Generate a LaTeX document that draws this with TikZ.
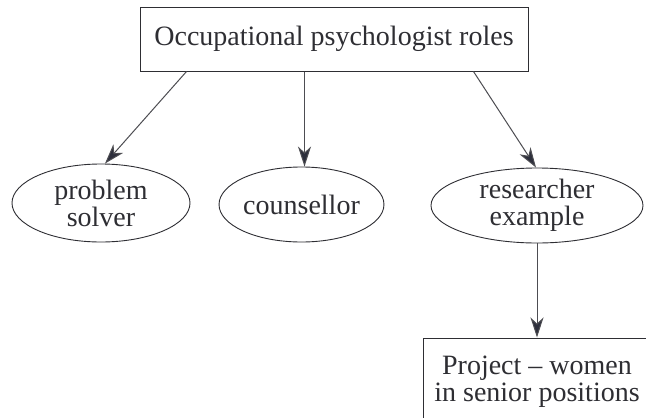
\documentclass[tikz,border=0pt]{standalone}
\usepackage{fontspec}
\setmainfont{Liberation Serif}
\usetikzlibrary{arrows.meta,shapes.geometric}
\definecolor{ink}{HTML}{2E2E33}
\definecolor{tip}{HTML}{2D2F3C}
\begin{document}
\begin{tikzpicture}[x=1pt,y=-1pt,
  lbl/.style={text=ink,font=\fontsize{28}{27}\selectfont,align=center},
  rbox/.style={lbl,draw=ink,line width=1pt,rectangle,inner sep=0pt},
  oval/.style={lbl,draw=ink,line width=0.9pt,ellipse,inner sep=0pt},
  arr/.style={draw=ink!85,line width=1pt,-{Stealth[length=20pt,width=13pt,inset=6pt,fill=tip]}}]
\useasboundingbox (0,0) rectangle (646,418);
\clip (0,0) rectangle (646,418);
\fill[white] (0,0) rectangle (646,418);
\node[rbox,minimum width=388pt,minimum height=64pt] (top) at (334,39) {Occupational psychologist roles};
\node[oval,minimum width=178pt,minimum height=78pt] (ps) at (101,203) {problem\\solver};
\node[oval,minimum width=141pt,minimum height=75pt] (cs) at (301.5,204.5) {counsellor};
\node[oval,minimum width=212pt,minimum height=75pt] (rs) at (537,205.5) {researcher\\example};
\node[rbox,minimum width=228pt,minimum height=88pt] (pj) at (537,382) {Project -- women\\in senior positions};
\draw[arr] ([xshift=47pt]top.south west) -- ([xshift=4pt]ps.north);
\draw[arr] ([xshift=165pt]top.south west) -- ([xshift=165pt]top.south west |- cs.north);
\draw[arr] ([xshift=334pt]top.south west) -- ([xshift=-1pt]rs.north);
\draw[arr] (rs.south) -- (pj.north);
\end{tikzpicture}
\end{document}
